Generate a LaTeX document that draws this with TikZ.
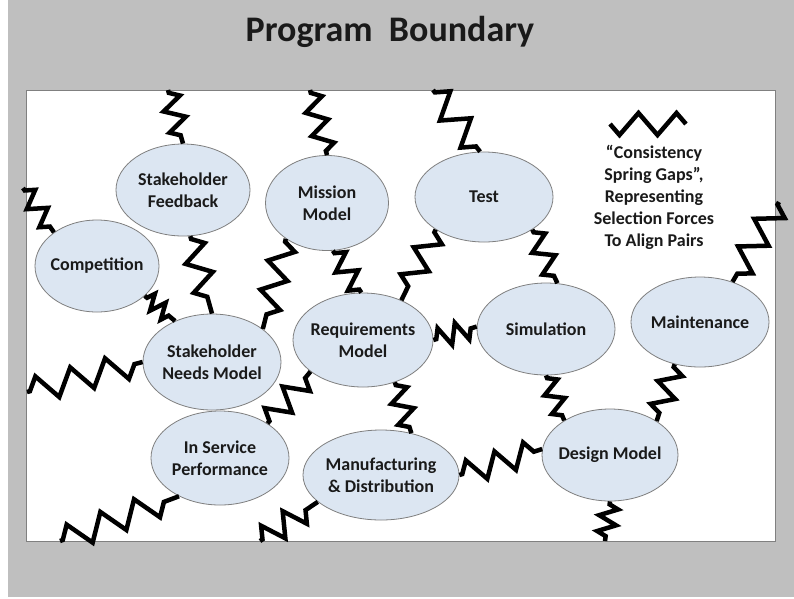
\documentclass[tikz,border=0pt]{standalone}
\usepackage{fontspec}
\setmainfont{Carlito}
\usetikzlibrary{shapes.geometric, decorations.pathmorphing}
\definecolor{bggray}{HTML}{BFBFBF}
\definecolor{edgegray}{HTML}{808080}
\definecolor{ovfill}{HTML}{DCE6F2}
\definecolor{ovline}{HTML}{7F7F7F}
\definecolor{txtdark}{HTML}{1A1A1A}

\begin{document}
\begin{tikzpicture}[x=1pt, y=-1pt,
  model/.style={ellipse, draw=ovline, line width=0.8pt, fill=ovfill,
    inner xsep=-14pt, inner ysep=0pt, align=center,
    font=\fontsize{18}{22}\selectfont\bfseries, text=txtdark},
  dims/.style 2 args={minimum width=#1pt, minimum height=#2pt},
  spring/.style 2 args={draw=black, line width=4.5pt, decorate,
    decoration={zigzag, segment length=#1pt, amplitude=#2pt,
      pre length=3pt, post length=3pt}},
]
\useasboundingbox (0,0) rectangle (794,598);

% Background
\fill[bggray] (8,0) rectangle (794,597);
\node[font=\fontsize{36}{40}\selectfont\bfseries, text=txtdark, anchor=base]
  (title) at (390,41) {Program\ \ Boundary};
\draw[edgegray, fill=white, line width=1pt] (26,90) rectangle (775,541);

% Models
\node[model, dims={134}{92}] (fb) at (183,190) {Stakeholder\\Feedback};
\node[model, dims={123}{95}] (mis) at (327,203) {Mission\\Model};
\node[model, dims={138}{90}] (tst) at (484,197) {Test};
\node[model, dims={124}{92}] (comp) at (97,266) {Competition};
\node[model, dims={138}{96}] (snm) at (212,362) {Stakeholder\\Needs Model};
\node[model, dims={140}{94}] (req) at (363,340) {Requirements\\Model};
\node[model, dims={138}{92}] (sim) at (546,329) {Simulation};
\node[model, dims={138}{90}] (mnt) at (700,322) {Maintenance};
\node[model, dims={138}{94}] (isp) at (220,458) {In Service\\Performance};
\node[model, dims={156}{90}] (mfg) at (381,475) {Manufacturing\\\& Distribution};
\node[model, dims={136}{92}] (dsn) at (610,455) {Design Model};

% Legend
\coordinate (legA) at (610,124);
\coordinate (legB) at (686,124);
\draw[spring={38}{-11}, decoration={pre length=0pt, post length=0pt}]
  (legA) -- (legB);
\node[align=center, font=\fontsize{18}{22}\selectfont\bfseries, text=txtdark]
  (legend) at (654,197)
  {``Consistency\\Spring Gaps'',\\Representing\\Selection Forces\\To Align Pairs};

% Springs to the boundary
\coordinate (fbtop) at (168,90);
\coordinate (mistop) at (310,90);
\coordinate (tsttop) at (433,90);
\coordinate (compleft) at (23,188);
\coordinate (mntright) at (779,202);
\coordinate (snmleft) at (27,392);
\coordinate (ispbot) at (60,541);
\coordinate (mfgbot) at (260,541);
\coordinate (dsnbot) at (605,541);

\draw[spring={22}{10}] (fbtop) -- (fb.north);
\draw[spring={24}{10}] (mistop) -- (mis.north);
\draw[spring={34}{13}] (tsttop) -- (tst.95);
\draw[spring={22}{9}] (compleft) -- (comp.142);
\draw[spring={32}{13}] (mntright) -- (mnt.51);
\draw[spring={36}{13}] (snmleft) -- (snm.west);
\draw[spring={36}{13}] (ispbot) -- (isp.223);
\draw[spring={26}{12}] (mfgbot) -- (mfg.203);
\draw[spring={16}{9}] (dsn.south) -- (dsnbot);

% Springs between models
\draw[spring={30}{12}] (fb.-81) -- (snm.north);
\draw[spring={30}{12}] (mis.221) -- (snm.33);
\draw[spring={14}{8}] (comp.-32) -- (snm.132);
\draw[spring={22}{10}] (mis.-83) -- (req.92);
\draw[spring={30}{12}] (tst.214) -- (req.46);
\draw[spring={24}{10}] (tst.-34) -- (sim.76);
\draw[spring={18}{10}] (req.east) -- (sim.178);
\draw[spring={28}{12}] (isp.36) -- (req.211);
\draw[spring={22}{10}] (req.-53) -- (mfg.54);
\draw[spring={30}{12}] (mfg.east) -- (dsn.175);
\draw[spring={20}{9}] (sim.south) -- (dsn.143);
\draw[spring={24}{11}] (mnt.-121) -- (dsn.36);
\end{tikzpicture}
\end{document}
